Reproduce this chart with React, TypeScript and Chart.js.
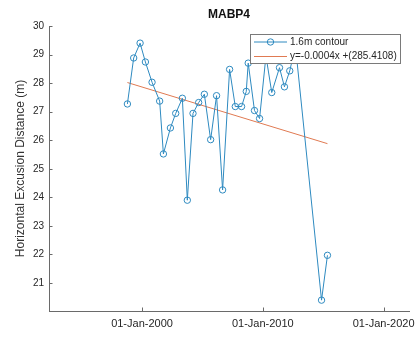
import React, { useEffect, useRef } from "react";
import { Chart, registerables } from "chart.js";

Chart.register(...registerables);

const titleText = "MABP4";
const yAxisTitle = "Horizontal Excusion Distance (m)";
const seriesLabel = "1.6m contour";
const trendLabel = "y=-0.0004x +(285.4108)";

// dates as decimal years
const surveyYears = [
  1998.79, 1999.31, 1999.84, 2000.28, 2000.83, 2001.46, 2001.77, 2002.35,
  2002.79, 2003.34, 2003.75, 2004.22, 2004.69, 2005.16, 2005.68, 2006.17,
  2006.67, 2007.25, 2007.72, 2008.24, 2008.63, 2008.79, 2009.31, 2009.73,
  2010.26, 2010.74, 2011.38, 2011.79, 2012.23, 2012.7, 2014.86, 2015.35,
];
const excursion = [
  27.27, 28.88, 29.4, 28.74, 28.03, 27.37, 25.52, 26.43,
  26.94, 27.47, 23.9, 26.94, 27.32, 27.61, 26.02, 27.56,
  24.26, 28.48, 27.18, 27.18, 27.71, 28.7, 27.04, 26.76,
  28.95, 27.67, 28.54, 27.87, 28.43, 29.3, 20.4, 21.97,
];
const trendYears = [1998.79, 2015.35];
const trendValues = [28.02, 25.88];

const xTickValues = [2000, 2010, 2020];
const xTickLabels = ["01-Jan-2000", "01-Jan-2010", "01-Jan-2020"];
const yTickValues = [21, 22, 23, 24, 25, 26, 27, 28, 29, 30];

const BLUE = "#2e8ac0";
const ORANGE = "#e07a52";
const AXIS = "#6a6a6a";
const FONT = "'Liberation Sans', Arial, sans-serif";

const decorPlugin = {
  id: "decor",
  afterDatasetsDraw(chart: any) {
    const ctx = chart.ctx;
    const area = chart.chartArea;
    const xs = chart.scales.x;
    const ys = chart.scales.y;
    ctx.save();
    // inward tick marks
    ctx.strokeStyle = AXIS;
    ctx.lineWidth = 1;
    ctx.beginPath();
    xTickValues.forEach((v) => {
      const px = Math.round(xs.getPixelForValue(v)) + 0.5;
      ctx.moveTo(px, area.bottom);
      ctx.lineTo(px, area.bottom - 3.5);
    });
    yTickValues.forEach((v) => {
      const py = Math.round(ys.getPixelForValue(v)) + 0.5;
      ctx.moveTo(area.left, py);
      ctx.lineTo(area.left + 3.5, py);
    });
    ctx.stroke();

    // legend
    const bx = 250.5, by = 34.5, bw = 150, bh = 29;
    ctx.fillStyle = "#ffffff";
    ctx.fillRect(bx, by, bw, bh);
    ctx.strokeStyle = "#7a7a7a";
    ctx.lineWidth = 1;
    ctx.strokeRect(bx, by, bw, bh);
    const r1 = 42, r2 = 56.5;
    ctx.strokeStyle = BLUE;
    ctx.beginPath();
    ctx.moveTo(254, r1);
    ctx.lineTo(287, r1);
    ctx.stroke();
    ctx.beginPath();
    ctx.arc(270.5, r1, 3.2, 0, Math.PI * 2);
    ctx.stroke();
    ctx.strokeStyle = ORANGE;
    ctx.beginPath();
    ctx.moveTo(254, r2);
    ctx.lineTo(287, r2);
    ctx.stroke();
    ctx.fillStyle = "#262626";
    ctx.font = `10px ${FONT}`;
    ctx.textBaseline = "middle";
    ctx.textAlign = "left";
    ctx.fillText(seriesLabel, 290, r1);
    ctx.fillText(trendLabel, 290, r2);

    // title
    ctx.font = `bold 12px ${FONT}`;
    ctx.textAlign = "center";
    ctx.fillStyle = "#111111";
    ctx.fillText(titleText, (area.left + area.right) / 2, 15);

    // y axis title
    ctx.translate(21, (area.top + area.bottom) / 2);
    ctx.rotate(-Math.PI / 2);
    ctx.font = `12px ${FONT}`;
    ctx.fillStyle = "#333333";
    ctx.fillText(yAxisTitle, 0, 0);
    ctx.restore();
  },
};

export default function App() {
  const ref = useRef<HTMLCanvasElement | null>(null);
  useEffect(() => {
    if (!ref.current) return;
    const chart = new Chart(ref.current, {
      type: "scatter",
      data: {
        datasets: [
          {
            label: trendLabel,
            data: trendYears.map((x, i) => ({ x, y: trendValues[i] })),
            showLine: true,
            borderColor: ORANGE,
            borderWidth: 1,
            pointRadius: 0,
            order: 2,
          },
          {
            label: seriesLabel,
            data: surveyYears.map((x, i) => ({ x, y: excursion[i] })),
            showLine: true,
            borderColor: BLUE,
            borderWidth: 1,
            pointRadius: 3.2,
            pointBorderWidth: 1,
            pointBorderColor: BLUE,
            pointBackgroundColor: "rgba(0,0,0,0)",
            order: 1,
          },
        ],
      },
      options: {
        animation: false,
        responsive: true,
        maintainAspectRatio: false,
        layout: { padding: { top: 26, right: 8, left: 0, bottom: 0 } },
        plugins: {
          legend: { display: false },
          title: { display: false },
          tooltip: { enabled: false },
        },
        scales: {
          x: {
            type: "linear",
            min: 1992.3,
            max: 2022.1,
            grid: { display: false, drawTicks: false, tickLength: 0 },
            border: { display: true, color: AXIS, width: 1 },
            afterBuildTicks: (s: any) => {
              s.ticks = xTickValues.map((v) => ({ value: v }));
            },
            afterFit: (s: any) => {
              s.height = 26;
              s.paddingLeft = 0;
              s.paddingRight = 0;
            },
            ticks: {
              autoSkip: false,
              maxRotation: 0,
              padding: 6,
              color: "#262626",
              font: { family: FONT, size: 11 },
              callback: (v: any) => {
                const i = xTickValues.indexOf(Number(v));
                return i >= 0 ? xTickLabels[i] : "";
              },
            },
          },
          y: {
            type: "linear",
            min: 20.02,
            max: 30,
            grid: { display: false, drawTicks: false, tickLength: 0 },
            border: { display: true, color: AXIS, width: 1 },
            afterBuildTicks: (s: any) => {
              s.ticks = yTickValues.map((v) => ({ value: v }));
            },
            afterFit: (s: any) => {
              s.width = 49;
              s.paddingTop = 0;
              s.paddingBottom = 0;
            },
            ticks: {
              autoSkip: false,
              padding: 5,
              color: "#262626",
              font: { family: FONT, size: 10 },
            },
          },
        },
      },
      plugins: [decorPlugin],
    });
    return () => chart.destroy();
  }, []);
  return (
    <div style={{ position: "fixed", left: 0, top: 0, width: 417, height: 337, background: "#fff" }}>
      <canvas ref={ref} />
    </div>
  );
}
